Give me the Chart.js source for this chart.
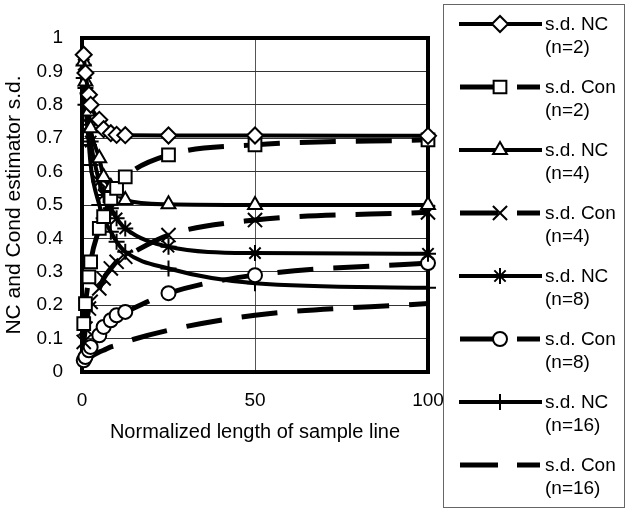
<!DOCTYPE html>
<html>
<head>
<meta charset="utf-8">
<script src="https://cdn.jsdelivr.net/npm/chart.js@4/dist/chart.umd.min.js"></script>
<style>
  html, body { margin: 0; padding: 0; background: #fff; }
  #wrap { width: 626px; height: 510px; }
</style>
</head>
<body>
<div id="wrap"><canvas id="chart" width="626" height="510"></canvas></div>
<script>
// ---- data ----
const xs = [0.5, 1, 2, 2.5, 5, 6.25, 8.33, 10, 12.5, 25, 50, 100];

const ncN2  = [0.95, 0.895, 0.83, 0.80, 0.755, 0.727, 0.715, 0.71, 0.709, 0.708, 0.708, 0.707];
const conN2 = [0.145, 0.205, 0.285, 0.33, 0.43, 0.465, 0.52, 0.55, 0.584, 0.65, 0.68, 0.695];
const ncN4  = [0.93, 0.87, 0.78, 0.73, 0.64, 0.584, 0.554, 0.535, 0.515, 0.502, 0.50, 0.50];
const conN4 = [0.09, 0.13, 0.19, 0.21, 0.25, 0.28, 0.31, 0.33, 0.345, 0.41, 0.455, 0.478];
const ncN8  = [0.92, 0.85, 0.74, 0.69, 0.57, 0.53, 0.49, 0.46, 0.43, 0.375, 0.356, 0.354];
const conN8 = [0.035, 0.045, 0.065, 0.075, 0.11, 0.135, 0.155, 0.17, 0.18, 0.236, 0.29, 0.326];
const ncN16 = [0.88, 0.80, 0.68, 0.62, 0.50, 0.46, 0.42, 0.39, 0.36, 0.31, 0.266, 0.252];
const conN16 = [0.02, 0.03, 0.04, 0.045, 0.06, 0.065, 0.075, 0.08, 0.09, 0.125, 0.17, 0.205];

const seriesLabels = [
  ["s.d. NC", "(n=2)"], ["s.d. Con", "(n=2)"],
  ["s.d. NC", "(n=4)"], ["s.d. Con", "(n=4)"],
  ["s.d. NC", "(n=8)"], ["s.d. Con", "(n=8)"],
  ["s.d. NC", "(n=16)"], ["s.d. Con", "(n=16)"]
];
const xTickLabels = ["0", "50", "100"];
const yTickLabels = ["0", "0.1", "0.2", "0.3", "0.4", "0.5", "0.6", "0.7", "0.8", "0.9", "1"];
const xTitle = "Normalized length of sample line";
const yTitle = "NC and Cond estimator s.d.";

const FONT = "'Liberation Sans', Arial, sans-serif";
const DASH = [36, 20];

// ------------------- DATASETS -------------------
function mk(i, ys, style, radius, dashed) {
  return {
    label: seriesLabels[i].join(" "),
    data: xs.map((x, k) => ({ x: x, y: ys[k] })),
    borderColor: "#000",
    borderWidth: dashed ? 5 : 4,
    borderDash: dashed ? DASH : [],
    borderCapStyle: "butt",
    cubicInterpolationMode: "monotone",
    pointStyle: style,
    pointRadius: radius,
    pointBorderWidth: 2,
    pointBorderColor: "#000",
    pointBackgroundColor: "#fff",
    clip: 12,
    dashed: dashed
  };
}

const datasets = [
  mk(0, ncN2, "rectRot", 8, false),
  mk(1, conN2, "rect", 9, true),
  mk(2, ncN4, "triangle", 8, false),
  mk(3, conN4, "crossRot", 10, true),
  mk(4, ncN8, "star", 8, false),
  mk(5, conN8, "circle", 7, true),
  mk(6, ncN16, "cross", 8, false),
  mk(7, conN16, false, 0, true)
];

// ------------------- PLOT FRAME -------------------
const framePlugin = {
  id: "frame",
  beforeDatasetsDraw(chart) {
    const { ctx, chartArea: a } = chart;
    ctx.save();
    ctx.strokeStyle = "#000";
    ctx.lineWidth = 4;
    ctx.strokeRect(a.left, a.top, a.right - a.left, a.bottom - a.top);
    ctx.restore();
  }
};

// ------------------- LEGEND BOX -------------------
function marker(ctx, ds, x, y) {
  if (!ds.pointStyle || !ds.pointRadius) return;
  ctx.fillStyle = "#fff";
  ctx.strokeStyle = "#000";
  ctx.lineWidth = ds.pointBorderWidth;
  Chart.helpers.drawPoint(ctx, { pointStyle: ds.pointStyle, radius: ds.pointRadius, rotation: 0, borderWidth: ds.pointBorderWidth }, x, y);
}

const legendPlugin = {
  id: "boxLegend",
  afterDraw(chart) {
    const ctx = chart.ctx;
    ctx.save();
    ctx.fillStyle = "#fff";
    ctx.fillRect(443, 4, 181, 503);
    ctx.strokeStyle = "#666";
    ctx.lineWidth = 1;
    ctx.strokeRect(443.5, 4.5, 181, 503);

    datasets.forEach((ds, i) => {
      const yc = 24 + i * 63;
      ctx.strokeStyle = "#000";
      ctx.lineCap = "butt";
      ctx.setLineDash([]);
      ctx.beginPath();
      if (ds.dashed) {
        ctx.lineWidth = 5;
        ctx.moveTo(460, yc); ctx.lineTo(498, yc);
        ctx.moveTo(517, yc); ctx.lineTo(540, yc);
      } else {
        ctx.lineWidth = 4;
        ctx.moveTo(459, yc); ctx.lineTo(542, yc);
      }
      ctx.stroke();
      marker(ctx, ds, 500, yc);

      ctx.fillStyle = "#000";
      ctx.font = "19px " + FONT;
      ctx.textAlign = "left";
      ctx.textBaseline = "middle";
      ctx.fillText(seriesLabels[i][0], 545, yc + 1);
      ctx.fillText(seriesLabels[i][1], 545, yc + 24);
    });
    ctx.restore();
  }
};

new Chart(document.getElementById("chart"), {
  type: "line",
  data: { datasets: datasets },
  options: {
    responsive: false,
    animation: false,
    devicePixelRatio: 1,
    layout: { padding: { top: 38, right: 198, left: 0, bottom: 0 } },
    plugins: { legend: { display: false }, tooltip: { enabled: false } },
    scales: {
      x: {
        type: "linear", min: 0, max: 100,
        border: { display: false },
        grid: { drawTicks: false, lineWidth: 1, color: c => c.tick && c.tick.value === 50 ? "#555" : "rgba(0,0,0,0)" },
        ticks: {
          stepSize: 50, padding: 17, color: "#000", font: { family: FONT, size: 19 },
          maxRotation: 0,
          callback: v => xTickLabels[Math.round(v / 50)]
        },
        title: { display: true, text: xTitle, color: "#000", font: { family: FONT, size: 20 }, padding: { top: 0, bottom: 66 } },
        afterFit: s => { s.height = 138; }
      },
      y: {
        min: 0, max: 1,
        border: { display: false },
        grid: { drawTicks: false, lineWidth: 1, color: "#333" },
        ticks: {
          stepSize: 0.1, padding: 19, color: "#000", font: { family: FONT, size: 19 },
          callback: v => yTickLabels[Math.round(v * 10)]
        },
        title: { display: true, text: yTitle, color: "#000", font: { family: FONT, size: 21 }, padding: { top: 2, bottom: 0 } },
        afterFit: s => { s.width = 82; }
      }
    }
  },
  plugins: [framePlugin, legendPlugin]
});
</script>
</body>
</html>
